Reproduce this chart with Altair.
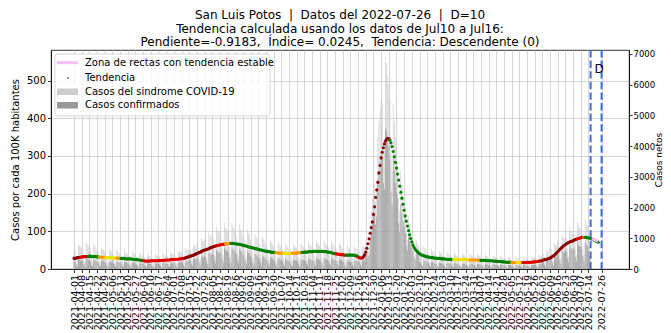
import altair as alt
import pandas as pd

# ---------------- data ----------------
TREND_START = "2021-04-01"
trend_values = [
    28,29,29,30,30,31,31,32,32,33,
    33,33,33,33,34,34,33,33,33,33,
    33,32,32,32,31,31,31,30,30,30,
    30,30,30,30,30,30,29,29,29,29,
    29,29,28,28,28,28,28,27,27,27,
    27,27,27,26,26,26,25,25,25,24,
    24,23,23,22,22,21,21,21,21,21,
    22,22,22,22,22,22,22,22,23,23,
    23,23,23,24,24,24,24,24,25,25,
    25,25,26,26,26,26,27,27,27,28,
    28,29,30,31,32,33,34,35,36,37,
    38,40,41,42,44,45,46,48,49,50,
    51,52,53,54,56,57,58,59,60,61,
    62,63,63,64,65,65,66,66,67,67,
    67,68,68,68,68,68,67,67,67,66,
    66,65,65,64,63,62,62,61,60,59,
    58,57,57,56,55,54,54,53,52,51,
    51,50,49,49,48,47,47,46,46,45,
    45,44,44,44,43,43,43,43,42,42,
    42,42,42,41,41,41,41,41,42,42,
    42,42,42,43,43,43,43,44,44,44,
    45,45,45,45,46,46,46,46,47,47,
    47,47,47,47,47,47,47,47,46,46,
    46,45,45,44,44,43,42,41,41,40,
    40,39,39,38,38,38,37,37,37,37,
    37,37,37,37,37,37,36,35,34,32,
    30,29,29,30,33,38,45,55,67,80,
    95,110,125,145,165,190,210,230,255,275,
    295,310,322,332,340,345,347,346,342,335,
    325,312,298,283,268,252,236,220,204,188,
    172,156,141,127,114,102,91,81,72,64,
    58,53,49,46,43,41,39,37,36,35,
    34,33,32,32,31,31,30,30,29,29,
    29,28,28,28,28,27,27,27,27,26,
    26,26,26,26,25,25,25,25,25,25,
    25,25,25,25,25,25,25,25,25,25,
    24,24,24,24,24,24,24,24,24,24,
    23,23,23,23,23,23,22,22,22,22,
    22,22,21,21,21,21,20,20,20,20,
    19,19,19,19,18,18,18,18,18,17,
    17,17,17,17,17,17,17,17,17,17,
    17,17,17,18,18,18,18,18,18,19,
    19,19,20,20,21,21,22,23,24,25,
    25,26,27,28,29,31,33,35,37,40,
    43,46,49,52,55,58,61,63,65,67,
    69,70,72,73,74,75,77,78,79,80,
    81,82,83,84,84,84,84,84,83,83,
    82,81,80,79,77,76,74,73,71,
]
trend_color_runs = [
    ("darkred", 6), ("red", 7), ("green", 10), ("orange", 6), ("yellow", 10),
    ("orange", 4), ("green", 20), ("red", 38), ("darkred", 30), ("red", 7),
    ("orange", 5), ("green", 41), ("orange", 7), ("yellow", 8), ("orange", 9),
    ("green", 31), ("red", 9), ("green", 11), ("red", 4), ("darkred", 25),
    ("green", 58), ("yellow", 15), ("orange", 10), ("green", 28), ("orange", 5),
    ("yellow", 5), ("red", 17), ("darkred", 33), ("red", 6), ("orange", 1),
    ("green", 13),
]
trend_categories = ["darkred", "red", "orange", "yellow", "green"]
trend_palette = ["#8b0000", "#e00000", "#ff9900", "#f0e000", "#008000"]

# daily net cases, one row per week (Thu .. Wed), starting 2021-04-01
BAR_START = "2021-04-01"
sindrome = [
    670, 600, 390, 250, 800, 740, 700,
    710, 640, 410, 260, 860, 790, 750,
    670, 600, 390, 250, 800, 740, 700,
    590, 530, 340, 220, 710, 650, 620,
    550, 490, 320, 200, 670, 610, 580,
    520, 470, 300, 190, 630, 580, 550,
    490, 440, 290, 180, 600, 550, 520,
    480, 430, 280, 180, 580, 530, 500,
    440, 390, 250, 160, 530, 480, 460,
    410, 370, 240, 150, 490, 450, 430,
    410, 360, 240, 150, 500, 450, 430,
    430, 380, 250, 160, 520, 470, 450,
    460, 410, 260, 170, 550, 500, 480,
    490, 440, 290, 180, 600, 550, 520,
    570, 510, 330, 210, 690, 630, 600,
    680, 610, 400, 250, 830, 760, 720,
    840, 750, 480, 310, 1010, 920, 880,
    1000, 890, 580, 370, 1210, 1100, 1050,
    1140, 1020, 660, 420, 1380, 1260, 1200,
    1240, 1110, 720, 460, 1500, 1370, 1300,
    1250, 1120, 730, 460, 1520, 1390, 1320,
    1190, 1060, 690, 440, 1440, 1310, 1250,
    1060, 950, 620, 390, 1290, 1180, 1120,
    950, 850, 550, 350, 1150, 1050, 1000,
    860, 770, 500, 320, 1040, 950, 900,
    780, 700, 450, 290, 940, 860, 820,
    720, 650, 420, 270, 870, 800, 760,
    680, 610, 400, 250, 830, 760, 720,
    670, 600, 390, 250, 800, 740, 700,
    680, 610, 400, 250, 830, 760, 720,
    720, 650, 420, 270, 870, 800, 760,
    750, 670, 430, 280, 910, 830, 790,
    760, 680, 440, 280, 920, 840, 800,
    740, 660, 430, 270, 900, 820, 780,
    680, 610, 400, 250, 830, 760, 720,
    630, 560, 360, 230, 760, 690, 660,
    610, 540, 350, 220, 740, 670, 640,
    650, 580, 370, 240, 780, 720, 700,
    800, 850, 600, 700, 1500, 1900, 2300,
    2700, 2800, 2200, 2600, 4300, 4800, 5200,
    5600, 5400, 4200, 4000, 6900, 6700, 6300,
    6000, 5500, 3800, 3200, 5400, 4800, 4300,
    3900, 3500, 2300, 1900, 3200, 2800, 2400,
    2100, 1800, 1200, 950, 1700, 1450, 1250,
    1100, 950, 650, 500, 950, 850, 750,
    620, 550, 360, 230, 750, 680, 650,
    530, 480, 310, 200, 640, 590, 560,
    480, 430, 280, 180, 580, 530, 500,
    450, 400, 260, 160, 540, 490, 470,
    430, 380, 250, 160, 520, 470, 450,
    420, 370, 240, 150, 510, 460, 440,
    410, 370, 240, 150, 490, 450, 430,
    400, 360, 230, 150, 480, 440, 420,
    380, 340, 220, 140, 460, 420, 400,
    370, 330, 210, 140, 450, 410, 390,
    350, 310, 200, 130, 430, 390, 370,
    330, 300, 190, 120, 400, 370, 350,
    310, 280, 180, 120, 380, 350, 330,
    310, 280, 180, 120, 380, 350, 330,
    330, 300, 190, 120, 400, 370, 350,
    400, 360, 230, 150, 480, 440, 420,
    530, 480, 310, 200, 640, 590, 560,
    720, 650, 420, 270, 870, 800, 760,
    930, 830, 540, 340, 1130, 1030, 980,
    1120, 1000, 650, 410, 1360, 1240, 1180,
    1250, 1120, 730, 460, 1520, 1390, 1320,
    1310, 1170, 760, 480, 1590, 1450, 1380,
    1100, 800, 450,
]
confirmados = [
    270, 240, 150, 100, 320, 290, 280,
    290, 260, 170, 110, 350, 320, 300,
    270, 240, 150, 100, 320, 290, 280,
    240, 210, 140, 90, 290, 260, 250,
    220, 200, 130, 80, 260, 240, 230,
    210, 190, 120, 80, 250, 230, 220,
    200, 180, 120, 70, 240, 220, 210,
    190, 170, 110, 70, 230, 210, 200,
    170, 150, 100, 60, 210, 190, 180,
    160, 140, 90, 60, 200, 180, 170,
    160, 140, 90, 60, 200, 180, 170,
    170, 150, 100, 60, 210, 190, 180,
    180, 160, 100, 70, 220, 200, 190,
    200, 180, 120, 70, 240, 220, 210,
    230, 200, 130, 80, 280, 250, 240,
    290, 260, 170, 110, 350, 320, 300,
    360, 320, 210, 130, 440, 400, 380,
    440, 390, 250, 160, 530, 480, 460,
    510, 460, 300, 190, 620, 570, 540,
    570, 510, 330, 210, 690, 630, 600,
    580, 520, 340, 210, 700, 640, 610,
    540, 480, 310, 200, 660, 600, 570,
    480, 430, 280, 180, 580, 530, 500,
    420, 370, 240, 150, 510, 460, 440,
    360, 320, 210, 130, 440, 400, 380,
    320, 290, 190, 120, 390, 360, 340,
    290, 260, 170, 110, 360, 330, 310,
    280, 250, 160, 100, 330, 300, 290,
    270, 240, 150, 100, 320, 290, 280,
    280, 250, 160, 100, 330, 300, 290,
    290, 260, 170, 110, 350, 320, 300,
    300, 270, 180, 110, 370, 340, 320,
    300, 270, 180, 110, 370, 340, 320,
    290, 260, 170, 110, 360, 330, 310,
    280, 250, 160, 100, 330, 300, 290,
    250, 220, 140, 90, 300, 270, 260,
    240, 210, 140, 90, 290, 260, 250,
    270, 240, 150, 100, 320, 290, 280,
    500, 550, 380, 450, 1000, 1250, 1500,
    1800, 1850, 1450, 1700, 2900, 3200, 3500,
    3700, 3600, 2800, 2600, 4600, 4500, 4200,
    4000, 3600, 2500, 2100, 3600, 3200, 2800,
    2500, 2300, 1500, 1200, 2100, 1800, 1550,
    1350, 1150, 750, 600, 1050, 900, 780,
    680, 580, 400, 300, 560, 500, 440,
    240, 210, 140, 90, 290, 260, 250,
    210, 190, 120, 80, 250, 230, 220,
    180, 160, 100, 70, 220, 200, 190,
    170, 150, 100, 60, 210, 190, 180,
    160, 140, 90, 60, 200, 180, 170,
    150, 140, 90, 60, 180, 170, 160,
    150, 140, 90, 60, 180, 170, 160,
    140, 130, 80, 50, 170, 160, 150,
    130, 120, 80, 50, 160, 150, 140,
    130, 120, 80, 50, 160, 150, 140,
    120, 110, 70, 50, 150, 140, 130,
    110, 100, 70, 40, 140, 130, 120,
    100, 90, 60, 40, 130, 120, 110,
    100, 90, 60, 40, 130, 120, 110,
    110, 100, 70, 40, 140, 130, 120,
    150, 140, 90, 60, 180, 170, 160,
    250, 220, 140, 90, 300, 270, 260,
    360, 320, 210, 130, 440, 400, 380,
    490, 440, 290, 180, 600, 550, 520,
    610, 540, 350, 220, 740, 670, 640,
    690, 620, 400, 260, 840, 770, 730,
    720, 650, 420, 270, 870, 800, 760,
    600, 420, 230,
]

stable_dates = ["2022-07-17", "2022-07-23"]
stable_values = [80, 74]

tick_dates = [d.strftime("%Y-%m-%d") for d in pd.date_range("2021-04-01", "2022-07-14", freq="7D")] + ["2022-07-26"]
d_lines = ["2022-07-16", "2022-07-26"]
x_domain = ["2021-03-11", "2022-08-20"]

NB = "\u00a0"
title_lines = [
    f"San Luis Potos{NB}{NB}|{NB}{NB}Datos del 2022-07-26{NB}{NB}|{NB}{NB}D=10",
    "Tendencia calculada usando los datos de Jul10 a Jul16:",
    f"Pendiente=-0.9183,{NB}{NB}Índice= 0.0245,{NB}{NB}Tendencia: Descendente (0)",
]
legend_labels = ["Zona de rectas con tendencia estable", "Tendencia",
                 "Casos del sindrome COVID-19", "Casos confirmados"]

# ---------------- tables ----------------
def ms(s):
    return int(pd.Timestamp(s, tz="UTC").timestamp() * 1000)

trend_colors = [c for c, n in trend_color_runs for _ in range(n)]
trend_df = pd.DataFrame({
    "fecha": [ms(d) for d in pd.date_range(TREND_START, periods=len(trend_values), freq="D").strftime("%Y-%m-%d")],
    "valor": trend_values,
    "cat": trend_colors[:len(trend_values)],
})
n_bars = min(len(sindrome), len(confirmados))
bar_dates = [ms(d) for d in pd.date_range(BAR_START, periods=n_bars, freq="D").strftime("%Y-%m-%d")]
bars_df = pd.DataFrame({"fecha": bar_dates, "sindrome": sindrome[:n_bars], "confirmados": confirmados[:n_bars]})
stable_df = pd.DataFrame({"fecha": [ms(d) for d in stable_dates], "valor": stable_values})
dl_df = pd.DataFrame({"fecha": [ms(d) for d in d_lines]})

FONT = "DejaVu Sans"
xscale = alt.Scale(type="utc", domain=[ms(d) for d in x_domain], nice=False, padding=0)
xaxis = alt.Axis(values=[ms(d) for d in tick_dates], format="%Y-%m-%d", labelAngle=270,
                 labelAlign="right", labelBaseline="middle", labelOverlap=False, labelBound=False,
                 labelFontSize=9.5, labelPadding=2, tickSize=3.5, tickColor="black", domainColor="black",
                 grid=True, gridColor="#cccccc", gridWidth=0.8, title=None, labelColor="black",
                 labelFont=FONT)
X = alt.X("fecha:T", scale=xscale, axis=xaxis)

left_scale = alt.Scale(domain=[0, 581.4], nice=False)
right_scale = alt.Scale(domain=[0, 7130], nice=False)
left_axis = alt.Axis(orient="left", values=list(range(0, 501, 100)), title="Casos por cada 100K habitantes",
                     grid=True, gridColor="#cccccc", gridWidth=0.8, tickSize=3.5, tickColor="black",
                     domainColor="black", labelFontSize=10, titleFontSize=10, titleFontWeight="normal",
                     labelColor="black", titleColor="black", labelFont=FONT, titleFont=FONT,
                     titlePadding=6, format="d")
right_axis = alt.Axis(orient="right", values=list(range(0, 7001, 1000)), title="Casos netos",
                      grid=False, tickSize=3, tickColor="black", domainColor="black",
                      labelFontSize=8.5, labelPadding=1, titleFontSize=9, titleFontWeight="normal",
                      titleAngle=270, titleBaseline="top",
                      labelColor="black", titleColor="black", labelFont=FONT, titleFont=FONT,
                      titlePadding=0, format="d")

bars_s = alt.Chart(bars_df).mark_bar(size=0.6, color="#c8c8c8").encode(
    x=X, y=alt.Y("sindrome:Q", scale=right_scale, axis=right_axis))
bars_c = alt.Chart(bars_df).mark_bar(size=0.6, color="#909090").encode(
    x=X, y=alt.Y("confirmados:Q", scale=right_scale, axis=right_axis))

trend = alt.Chart(trend_df).mark_circle(size=10, opacity=1).encode(
    x=X,
    y=alt.Y("valor:Q", scale=left_scale, axis=left_axis),
    color=alt.Color("cat:N", scale=alt.Scale(domain=trend_categories, range=trend_palette), legend=None),
)
stable = alt.Chart(stable_df).mark_line(color="#f5b8f5", strokeWidth=3).encode(
    x=X, y=alt.Y("valor:Q", scale=left_scale, axis=left_axis))

dlines = alt.Chart(dl_df).mark_rule(color="#4169e1", strokeWidth=2, strokeDash=[7.4, 3.2]).encode(x=X)
dtext = alt.Chart(dl_df.iloc[:1]).mark_text(text="D", align="left", baseline="middle", dx=4,
                                            fontSize=12, font=FONT, color="black").encode(
    x=X, y=alt.value(19))

# legend (decoration)
one = pd.DataFrame({"k": [0]})
leg_bg = alt.Chart(one).mark_rect(fill="white", fillOpacity=0.8, stroke="#cccccc", strokeWidth=0.8,
                                  cornerRadius=3).encode(
    x=alt.value(4), x2=alt.value(219), y=alt.value(4), y2=alt.value(66))
leg_line = alt.Chart(one).mark_rule(color="#f5c0f5", strokeWidth=3).encode(
    x=alt.value(6), x2=alt.value(27), y=alt.value(12.7))
leg_dot = alt.Chart(one).mark_circle(size=4, color="#777777", opacity=1).encode(
    x=alt.value(17), y=alt.value(28))
leg_box1 = alt.Chart(one).mark_rect(color="#cccccc").encode(
    x=alt.value(6), x2=alt.value(27), y=alt.value(38.5), y2=alt.value(45))
leg_box2 = alt.Chart(one).mark_rect(color="#999999").encode(
    x=alt.value(6), x2=alt.value(27), y=alt.value(52), y2=alt.value(58.5))
leg_texts = [
    alt.Chart(one).mark_text(text=lab, align="left", baseline="middle", fontSize=10, font=FONT,
                             color="black").encode(x=alt.value(34), y=alt.value(yy))
    for lab, yy in zip(legend_labels, [12.7, 28, 41.7, 55.2])
]

right_layer = alt.layer(bars_s, bars_c)
left_layer = alt.layer(trend, stable, dlines, dtext)

chart = alt.layer(right_layer, left_layer, leg_bg, leg_line, leg_dot, leg_box1, leg_box2, *leg_texts).resolve_scale(
    y="independent"
).properties(
    width=578, height=219,
    padding={"left": 43, "top": 42, "right": 34, "bottom": 64},
    autosize=alt.AutoSizeParams(type="none"),
    title=alt.TitleParams(text=title_lines, fontSize=12, font=FONT, fontWeight="normal", anchor="middle",
                          lineHeight=13.5, offset=0, color="black"),
).configure_view(stroke="black", strokeWidth=0.8).configure_axis(domainWidth=0.8, tickWidth=0.8)

chart.save("out.html", embed_options={"renderer": "svg", "actions": False})
